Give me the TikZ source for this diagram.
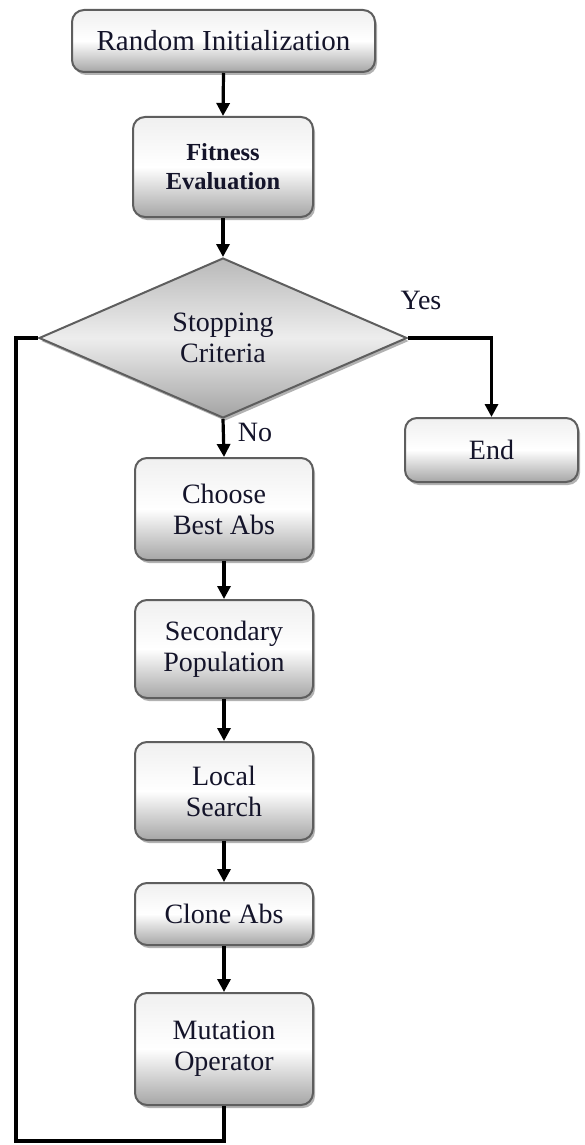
\documentclass[tikz,border=0pt]{standalone}
\usepackage{fontspec}
\setmainfont{Liberation Serif}
\usetikzlibrary{shapes.geometric,shadows,arrows.meta}
\definecolor{txt}{HTML}{14142A}
\definecolor{edge}{HTML}{5E5E5E}
\begin{document}
\begin{tikzpicture}[x=1pt,y=-1pt,
  box/.style={draw=edge, line width=2pt, rounded corners=12pt,
    top color=gray!12, bottom color=gray!70, middle color=white,
    minimum width=178pt, align=center, text=txt,
    font=\fontsize{28}{31}\selectfont, inner sep=0pt,
    drop shadow={shadow xshift=2pt, shadow yshift=-3pt, fill=black, opacity=0.3}},
  dec/.style={shape=diamond, draw=edge, line width=2pt,
    top color=gray!55, bottom color=gray!72, middle color=gray!14,
    minimum width=368pt, minimum height=160pt, inner sep=0pt, align=center,
    text=txt, font=\fontsize{28}{31}\selectfont,
    drop shadow={shadow xshift=2pt, shadow yshift=-3pt, fill=black, opacity=0.3}},
  lbl/.style={text=txt, font=\fontsize{28}{31}\selectfont, inner sep=0pt},
  arr/.style={line width=3.2pt, -{Triangle[width=13pt,length=13pt]}},
  loop/.style={line width=3.2pt}]
\useasboundingbox (0,0) rectangle (584,1145);
\node[box, minimum width=303pt, minimum height=62pt, font=\fontsize{29}{31}\selectfont] (init) at (223.5,41) {Random Initialization};
\node[box, minimum width=180pt, minimum height=100pt, font=\bfseries\fontsize{24.5}{29}\selectfont] (fit) at (223,167) {Fitness\\Evaluation};
\node[dec] (stop) at (223,338) {Stopping\\Criteria};
\node[box, minimum width=173pt, minimum height=64pt] (end) at (491.5,450) {End};
\node[box, minimum height=102pt] (choose) at (224,509) {Choose\\Best Abs};
\node[box, minimum height=98pt] (second) at (224,649) {Secondary\\Population};
\node[box, minimum height=98pt] (local) at (224,791) {Local\\Search};
\node[box, minimum height=62pt] (clone) at (224,914) {Clone Abs};
\node[box, minimum height=112pt] (mut) at (224,1049) {Mutation\\Operator};
\node[lbl] (yes) at (421,300) {Yes};
\node[lbl] (no) at (255,432) {No};
\coordinate (c1) at (224,1141);
\coordinate (c2) at (16,1141);
\coordinate (c3) at (16,338);
\draw[arr] (init.south) -- (fit.north);
\draw[arr] (fit.south) -- (stop.north);
\draw[arr] (stop.south) -- (choose.north);
\draw[arr] (stop.east) -| (end.north);
\draw[arr] (choose.south) -- (second.north);
\draw[arr] (second.south) -- (local.north);
\draw[arr] (local.south) -- (clone.north);
\draw[arr] (clone.south) -- (mut.north);
\draw[loop] (mut.south) -- (c1) -- (c2) -- (c3) -- (stop.west);
\end{tikzpicture}
\end{document}
